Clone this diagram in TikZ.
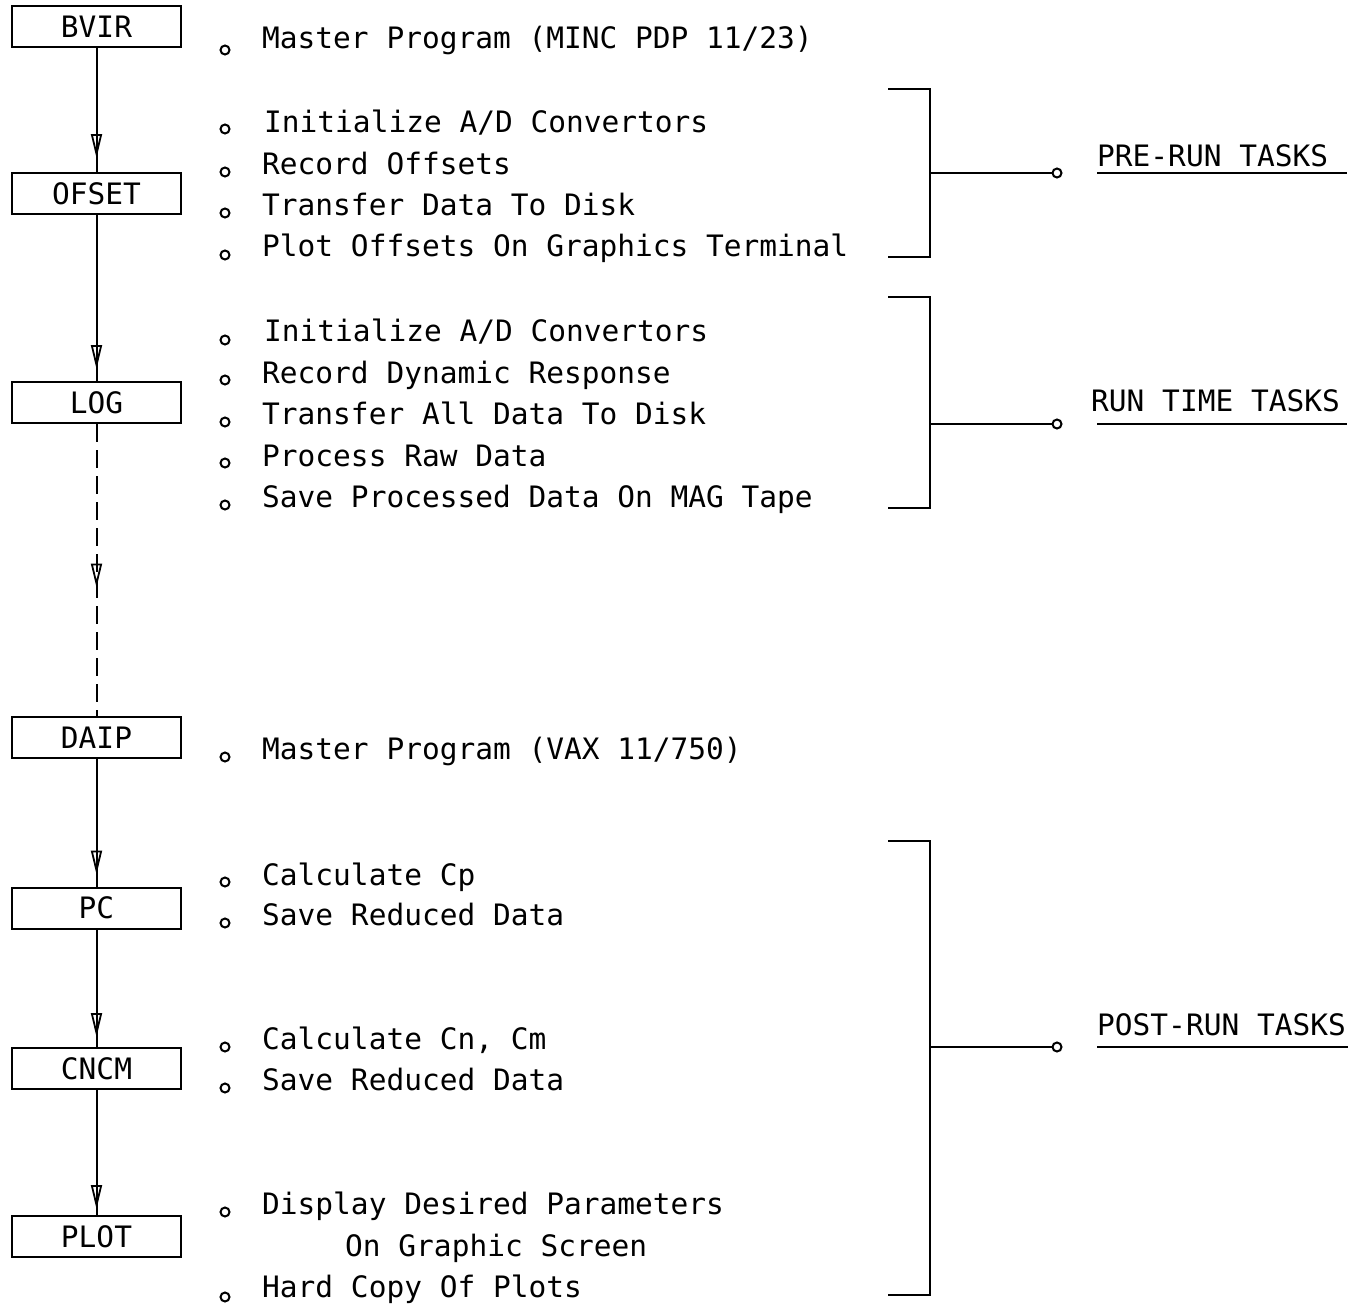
\documentclass[tikz,border=0pt]{standalone}
\usepackage{fontspec}
\newfontfamily\plotfont{DejaVu Sans Mono}
\usetikzlibrary{arrows.meta,decorations.markings}
\tikzset{
  prog/.style={draw, line width=2pt, minimum width=169pt, minimum height=41pt, inner sep=0pt, font=\plotfont\fontsize{29.5}{35}\selectfont},
  flow/.style={line width=2pt, postaction={decorate}, decoration={markings, mark=at position #1 with {\arrow{Triangle[open,length=24pt,width=11pt,line width=1.8pt]}}}},
  dot/.style={draw, circle, line width=2pt, minimum size=9pt, inner sep=0pt},
  item/.style={anchor=base west, inner sep=0pt, font=\plotfont\fontsize{29.5}{35}\selectfont},
  bracket/.style={line width=2pt},
  tip/.style={draw, circle, line width=2pt, minimum size=9pt, inner sep=0pt},
}
\begin{document}
\begin{tikzpicture}[x=1pt,y=-1pt]
\useasboundingbox (0,0) rectangle (1358,1314);

\node[prog] (bvir) at (96.5,27) {BVIR};
\node[prog] (ofset) at (96.5,193.5) {OFSET};
\node[prog] (log) at (96.5,402.5) {LOG};
\node[prog] (daip) at (96.5,737.5) {DAIP};
\node[prog] (pc) at (96.5,908) {PC};
\node[prog] (cncm) at (96.5,1068.5) {CNCM};
\node[prog] (plot) at (96.5,1236.5) {PLOT};

\draw[flow=-14pt] (bvir) -- (ofset);
\draw[flow=-12pt] (ofset) -- (log);
\draw[flow=0.56, dash pattern=on 18pt off 8pt] (log) -- (daip);
\draw[flow=-12pt] (daip) -- (pc);
\draw[flow=-10pt] (pc) -- (cncm);
\draw[flow=-6pt] (cncm) -- (plot);

\node[dot] (d1) at (225,50) {};
\node[item] (t1) at (262,49) {Master Program (MINC PDP 11/23)};
\node[dot] (d2) at (225,129) {};
\node[item] (t2) at (264,132) {Initialize A/D Convertors};
\node[dot] (d3) at (225,172) {};
\node[item] (t3) at (262,174) {Record Offsets};
\node[dot] (d4) at (225,213) {};
\node[item] (t4) at (262,215) {Transfer Data To Disk};
\node[dot] (d5) at (225,255) {};
\node[item] (t5) at (262,256) {Plot Offsets On Graphics Terminal};

\node[dot] (d6) at (225,340) {};
\node[item] (t6) at (264,341) {Initialize A/D Convertors};
\node[dot] (d7) at (225,380) {};
\node[item] (t7) at (262,383) {Record Dynamic Response};
\node[dot] (d8) at (225,422) {};
\node[item] (t8) at (262,424) {Transfer All Data To Disk};
\node[dot] (d9) at (225,463) {};
\node[item] (t9) at (262,466) {Process Raw Data};
\node[dot] (d10) at (225,505) {};
\node[item] (t10) at (262,507) {Save Processed Data On MAG Tape};

\node[dot] (d11) at (225,757) {};
\node[item] (t11) at (262,759) {Master Program (VAX 11/750)};

\node[dot] (d12) at (225,882) {};
\node[item] (t12) at (262,885) {Calculate Cp};
\node[dot] (d13) at (225,923) {};
\node[item] (t13) at (262,925) {Save Reduced Data};
\node[dot] (d14) at (225,1047) {};
\node[item] (t14) at (262,1049) {Calculate Cn, Cm};
\node[dot] (d15) at (225,1088) {};
\node[item] (t15) at (262,1090) {Save Reduced Data};
\node[dot] (d16) at (225,1212) {};
\node[item] (t16) at (262,1214) {Display Desired Parameters};
\node[item] (t17) at (345,1256) {On Graphic Screen};
\node[dot] (d18) at (225,1297) {};
\node[item] (t18) at (262,1297) {Hard Copy Of Plots};

\draw[bracket] (888,89) -| (930,257) -- (888,257);
\coordinate (premid) at (930,173);
\node[tip] (pretip) at (1057,173) {};
\draw[bracket] (premid) -- (pretip);
\node[item] (prelab) at (1097,166) {PRE-RUN TASKS};
\draw[bracket] (1097,173) -- (1347,173);

\draw[bracket] (888,297) -| (930,508) -- (888,508);
\coordinate (runmid) at (930,424);
\node[tip] (runtip) at (1057,424) {};
\draw[bracket] (runmid) -- (runtip);
\node[item] (runlab) at (1091,411) {RUN TIME TASKS};
\draw[bracket] (1097,424) -- (1347,424);

\draw[bracket] (888,841) -| (930,1295) -- (888,1295);
\coordinate (postmid) at (930,1047);
\node[tip] (posttip) at (1057,1047) {};
\draw[bracket] (postmid) -- (posttip);
\node[item] (postlab) at (1097,1035) {POST-RUN TASKS};
\draw[bracket] (1097,1047) -- (1348,1047);
\end{tikzpicture}
\end{document}
